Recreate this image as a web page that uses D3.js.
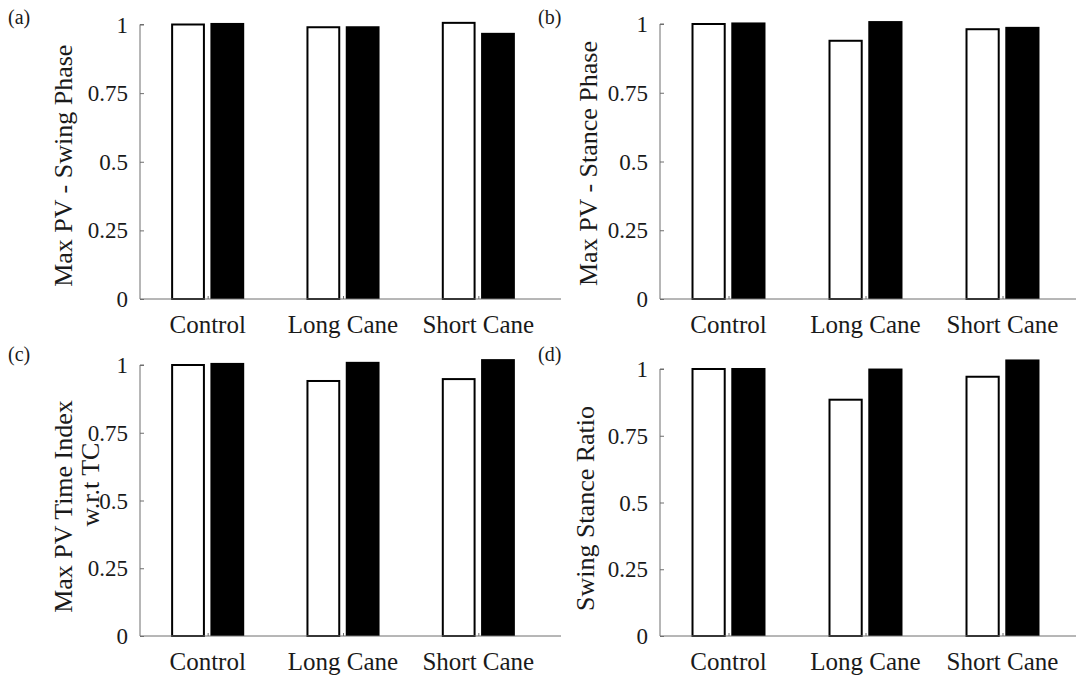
<!DOCTYPE html>
<html>
<head>
<meta charset="utf-8">
<script src="https://cdn.jsdelivr.net/npm/d3@7"></script>
<style>
  html, body { margin: 0; padding: 0; background: #fff; }
  svg { display: block; }
</style>
</head>
<body>
<svg id="chart" width="1076" height="676" font-family="'Liberation Serif', 'Times New Roman', serif"></svg>
<script>
// Groups along the x axis and the two conditions drawn per group
const categories = ["Control", "Long Cane", "Short Cane"];
const conditions = ["open", "filled"];
const yTicks = [0, 0.25, 0.5, 0.75, 1];
const yTickLabels = ["0", "0.25", "0.5", "0.75", "1"];

// Normalised values per panel: [open bar, filled bar] for each group
const swingPV    = [[1.000, 1.002], [0.990, 0.990], [1.006, 0.966]];
const stancePV   = [[1.000, 1.002], [0.939, 1.007], [0.981, 0.986]];
const pvTimeIdx  = [[1.000, 1.004], [0.941, 1.008], [0.948, 1.018]];
const swingStance = [[1.000, 1.000], [0.885, 0.998], [0.971, 1.032]];

const panels = [
  { tag: "(a)", label: ["Max PV - Swing Phase"], values: swingPV,
    left: 140, right: 546, axisEnd: 561, top: 24.5, bottom: 299,
    tagX: 8, tagY: 24, labelX: [72], labelShift: [4] },
  { tag: "(b)", label: ["Max PV - Stance Phase"], values: stancePV,
    left: 660, right: 1071, axisEnd: 1076, top: 24, bottom: 299,
    tagX: 538, tagY: 24, labelX: [597], labelShift: [2] },
  { tag: "(c)", label: ["Max PV Time Index", "w.r.t TC"], values: pvTimeIdx,
    left: 140, right: 546, axisEnd: 561, top: 365, bottom: 636,
    tagX: 8, tagY: 361, labelX: [72, 99], labelShift: [6, -16] },
  { tag: "(d)", label: ["Swing Stance Ratio"], values: swingStance,
    left: 660, right: 1071, axisEnd: 1076, top: 369, bottom: 636,
    tagX: 538, tagY: 361, labelX: [594], labelShift: [6] }
];

const svg = d3.select("#chart");
const axisColor = "#6e6e6e";
const textColor = "#1a1a1a";

panels.forEach(p => {
  const g = svg.append("g");

  const x = d3.scalePoint().domain(categories).range([p.left, p.right]).padding(0.5);
  const step = x.step();
  const xIn = d3.scaleBand().domain(conditions)
    .range([-0.27 * step, 0.27 * step]).paddingInner(0.14);
  const y = d3.scaleLinear().domain([0, 1]).range([p.bottom, p.top]);

  // bars
  categories.forEach((c, i) => {
    conditions.forEach((s, j) => {
      const v = p.values[i][j];
      const bx = x(c) + xIn(s);
      const bw = xIn.bandwidth();
      if (s === "open") {
        g.append("rect")
          .attr("x", bx + 1).attr("y", y(v))
          .attr("width", bw - 2).attr("height", y(0) - y(v))
          .attr("fill", "#fff").attr("stroke", "#000").attr("stroke-width", 2);
      } else {
        g.append("rect")
          .attr("x", bx).attr("y", y(v) - 1)
          .attr("width", bw).attr("height", y(0) - y(v) + 1)
          .attr("fill", "#000");
      }
    });
  });

  // y axis with inward ticks
  const yAxis = d3.axisRight(y).tickValues(yTicks).tickSize(4).tickFormat("");
  const ya = g.append("g").attr("transform", `translate(${p.left},0)`).call(yAxis);
  ya.selectAll("path, line").attr("stroke", axisColor);
  ya.select(".domain").attr("d", `M4,${y(1)}H0V${y(0)}`);

  g.selectAll(".ylab").data(yTicks).enter().append("text")
    .attr("x", p.left - 12).attr("y", d => y(d) + 8)
    .attr("text-anchor", "end").attr("font-size", 23).attr("fill", textColor)
    .text((d, i) => yTickLabels[i]);

  // x axis with short upward ticks between the bar pairs
  const xAxis = d3.axisTop(x).tickSize(3).tickFormat("");
  const xa = g.append("g").attr("transform", `translate(0,${p.bottom})`).call(xAxis);
  xa.selectAll("path, line").attr("stroke", axisColor);
  xa.select(".domain").attr("d", `M${p.left},0H${p.axisEnd}`);

  g.selectAll(".xlab").data(categories).enter().append("text")
    .attr("x", d => x(d)).attr("y", p.bottom + 34)
    .attr("text-anchor", "middle").attr("font-size", 25).attr("fill", textColor)
    .text(d => d);

  // axis title, rotated
  const midY = (p.top + p.bottom) / 2;
  p.label.forEach((line, k) => {
    g.append("text")
      .attr("transform", `translate(${p.labelX[k]},${midY + p.labelShift[k]}) rotate(-90)`)
      .attr("text-anchor", "middle").attr("font-size", 26).attr("fill", textColor)
      .text(line);
  });

  // panel tag
  g.append("text").attr("x", p.tagX).attr("y", p.tagY)
    .attr("font-size", 20).attr("fill", textColor).text(p.tag);
});
</script>
</body>
</html>
